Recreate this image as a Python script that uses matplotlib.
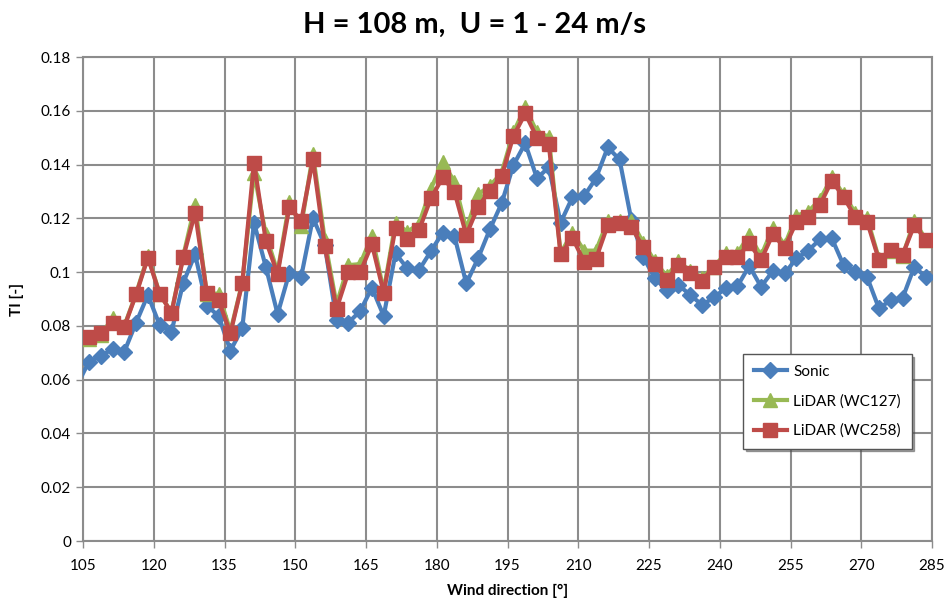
import matplotlib
matplotlib.use("Agg")
import matplotlib.pyplot as plt
import numpy as np

plt.rcParams['font.family'] = ['Lato', 'DejaVu Sans']

# wind direction bins (first one lies just left of the axis and is clipped)
wd = [103.75 + 2.5 * i for i in range(73)]

sonic = [0.058,
         0.0667, 0.0688, 0.0714, 0.0704, 0.0812, 0.0915, 0.0803, 0.0778, 0.0961, 0.1066,
         0.0875, 0.0837, 0.0708, 0.0791, 0.1184, 0.1020, 0.0844, 0.0998, 0.0983, 0.1202,
         0.1100, 0.0822, 0.0812, 0.0855, 0.0942, 0.0837, 0.1070, 0.1014, 0.1008, 0.1078,
         0.1147, 0.1134, 0.0958, 0.1051, 0.1159, 0.1256, 0.1398, 0.1479, 0.1349, 0.1390,
         0.1184, 0.1278, 0.1283, 0.1349, 0.1464, 0.1419, 0.1194, 0.1057, 0.0977, 0.0933,
         0.0952, 0.0915, 0.0878, 0.0906, 0.0940, 0.0948, 0.1023, 0.0946, 0.1004, 0.0995,
         0.1051, 0.1080, 0.1122, 0.1126, 0.1026, 0.1002, 0.0981, 0.0865, 0.0896, 0.0903,
         0.1020, 0.0981]

wc127 = [0.074,
         0.0750, 0.0765, 0.0830, 0.0800, 0.0920, 0.1060, 0.0920, 0.0850, 0.1060, 0.1250,
         0.0920, 0.0920, 0.0780, 0.0960, 0.1370, 0.1140, 0.1000, 0.1260, 0.1170, 0.1440,
         0.1120, 0.0880, 0.1026, 0.1030, 0.1135, 0.0930, 0.1184, 0.1150, 0.1180, 0.1310,
         0.1410, 0.1336, 0.1160, 0.1290, 0.1320, 0.1370, 0.1520, 0.1613, 0.1520, 0.1504,
         0.1070, 0.1147, 0.1080, 0.1080, 0.1190, 0.1190, 0.1190, 0.1110, 0.1040, 0.0985,
         0.1040, 0.1005, 0.0980, 0.1020, 0.1070, 0.1070, 0.1138, 0.1060, 0.1165, 0.1100,
         0.1210, 0.1225, 0.1270, 0.1352, 0.1290, 0.1220, 0.1200, 0.1050, 0.1080, 0.1060,
         0.1190, 0.1120]

wc258 = [0.075,
         0.0760, 0.0775, 0.0812, 0.0797, 0.0917, 0.1054, 0.0919, 0.0849, 0.1055, 0.1221,
         0.0923, 0.0896, 0.0772, 0.0958, 0.1407, 0.1117, 0.0993, 0.1243, 0.1190, 0.1419,
         0.1097, 0.0863, 0.0999, 0.0999, 0.1104, 0.0923, 0.1165, 0.1123, 0.1157, 0.1274,
         0.1352, 0.1299, 0.1138, 0.1243, 0.1302, 0.1357, 0.1506, 0.1590, 0.1500, 0.1476,
         0.1066, 0.1128, 0.1039, 0.1049, 0.1175, 0.1181, 0.1169, 0.1092, 0.1030, 0.0971,
         0.1026, 0.0995, 0.0968, 0.1020, 0.1057, 0.1055, 0.1107, 0.1045, 0.1141, 0.1091,
         0.1187, 0.1206, 0.1250, 0.1340, 0.1280, 0.1204, 0.1187, 0.1045, 0.1082, 0.1064,
         0.1175, 0.1119]

xticks = list(range(105, 286, 15))
yticks = [round(0.02 * i, 2) for i in range(10)]
ytick_labels = ['0'] + ['%g' % v for v in yticks[1:]]

fig = plt.figure(figsize=(9.49, 6.01), dpi=100)
ax = fig.add_axes([0.0875, 0.0998, 0.8946, 0.8053])

# no marker on the clipped first bin
mk = list(range(1, len(wd)))
ax.plot(wd, sonic, color='#4a7ebb', lw=3, marker='D', ms=8, markevery=mk,
        label='Sonic', zorder=3)
ax.plot(wd, wc127, color='#98b954', lw=3, marker='^', ms=10, markevery=mk,
        label='LiDAR (WC127)', zorder=4)
ax.plot(wd, wc258, color='#be4b48', lw=3, marker='s', ms=10, markevery=mk,
        label='LiDAR (WC258)', zorder=5)

ax.set_xlim(105, 285)
ax.set_ylim(0, 0.18)
ax.set_xticks(xticks)
ax.set_yticks(yticks)
ax.set_yticklabels(ytick_labels)
ax.grid(True, color='#8c8c8c', lw=1.5)
ax.set_axisbelow(True)
for s in ax.spines.values():
    s.set_color('#8c8c8c')
    s.set_linewidth(1.5)
ax.tick_params(axis='both', labelsize=11, color='#8c8c8c', length=5, width=1)
ax.tick_params(axis='x', pad=8)

fig.text(0.5, 0.958, 'H = 108 m,  U = 1 - 24 m/s', ha='center', va='center',
         fontsize=21, fontweight='bold')
ax.set_xlabel('Wind direction [°]', fontsize=11, fontweight='bold', labelpad=8)
ax.set_ylabel('TI [-]', fontsize=11, fontweight='bold', labelpad=12)

leg = ax.legend(loc='lower right', bbox_to_anchor=(0.985, 0.175), fontsize=11,
                frameon=True, fancybox=False, shadow=True, borderpad=0.7,
                handlelength=2.2, handletextpad=0.4, labelspacing=1.0)
leg.get_frame().set_edgecolor('#555555')
leg.get_frame().set_linewidth(1.0)

fig.savefig('out.png', dpi=100)
